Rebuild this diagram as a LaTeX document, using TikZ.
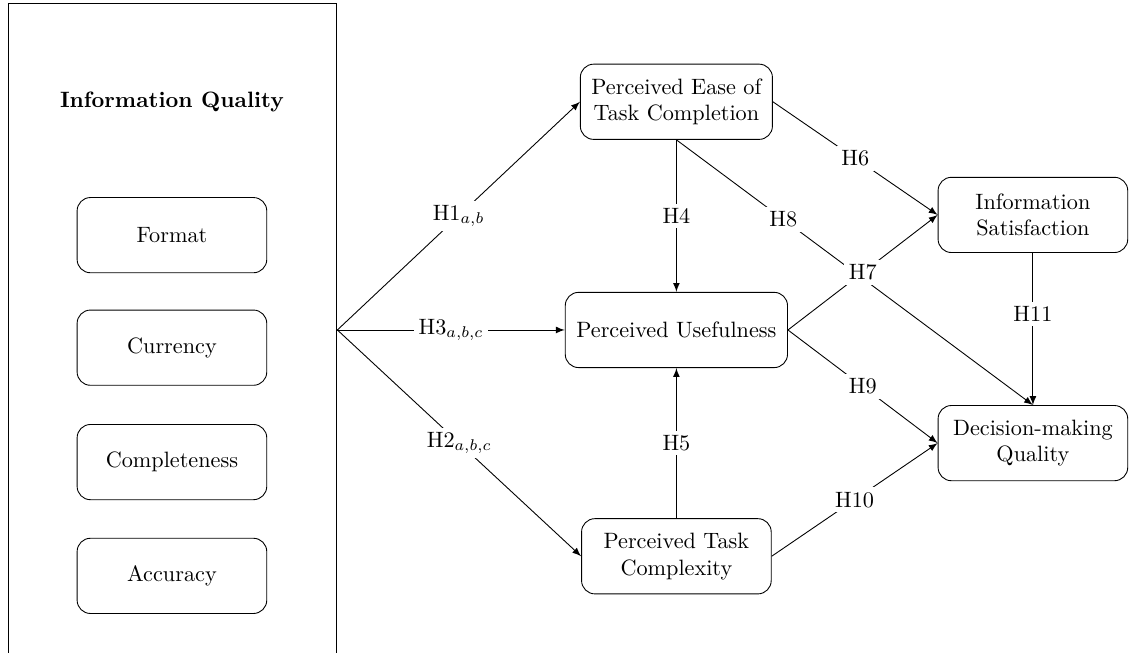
\documentclass[tikz,border=0pt]{standalone}
\usepackage{amsmath}
\tikzset{
	construct/.style={draw, rounded corners=6pt, align=center, minimum width=3cm, minimum height=1.19cm, inner sep=5pt},
	hyp/.style={fill=white, inner sep=2pt}
}

\begin{document}
\begin{tikzpicture}[>=latex]
	\useasboundingbox (0,0) rectangle (17.86,10.33);
	
	\node [draw, minimum width=5.2cm, minimum height=11cm] (iq) at (2.73,4.77) {};
	\node [font=\bfseries] (iqtitle) at (2.72,8.72) {Information Quality};
	\node [construct] (format) at (2.72,6.61) {Format};
	\node [construct] (currency) at (2.72,4.83) {Currency};
	\node [construct] (complete) at (2.72,3.02) {Completeness};
	\node [construct] (accuracy) at (2.72,1.22) {Accuracy};
	
	\node [construct] (peoc) at (10.70,8.72) {Perceived Ease of\\Task Completion};
	\node [construct] (pu) at (10.70,5.11) {Perceived Usefulness};
	\node [construct] (ptc) at (10.70,1.53) {Perceived Task\\Complexity};
	\node [construct] (is) at (16.34,6.93) {Information\\Satisfaction};
	\node [construct] (dmq) at (16.34,3.32) {Decision-making\\Quality};
	
	\coordinate (fan) at (iq.east |- pu.west);
	
	\draw[->] (fan)--(peoc.west)
		node [midway, hyp] {H1$_{a,b}$};
	\draw[->] (fan)--(pu.west)
		node [midway, hyp] {H3$_{a,b,c}$};
	\draw[->] (fan)--(ptc.west)
		node [midway, hyp] {H2$_{a,b,c}$};
	
	\draw[->] (peoc.south)--(pu.north)
		node [midway, hyp] {H4};
	\draw[->] (ptc.north)--(pu.south)
		node [midway, hyp] {H5};
	\draw[->] (peoc.east)--(is.west)
		node [midway, hyp] {H6};
	\draw[->] (peoc.south)--(dmq.north)
		node [pos=0.3, hyp] {H8};
	\draw[->] (pu.east)--(is.west)
		node [midway, hyp] {H7};
	\draw[->] (pu.east)--(dmq.west)
		node [midway, hyp] {H9};
	\draw[->] (ptc.east)--(dmq.west)
		node [midway, hyp] {H10};
	\draw[->] (is.south)--(dmq.north)
		node [pos=0.4, hyp] {H11};
\end{tikzpicture}
\end{document}
